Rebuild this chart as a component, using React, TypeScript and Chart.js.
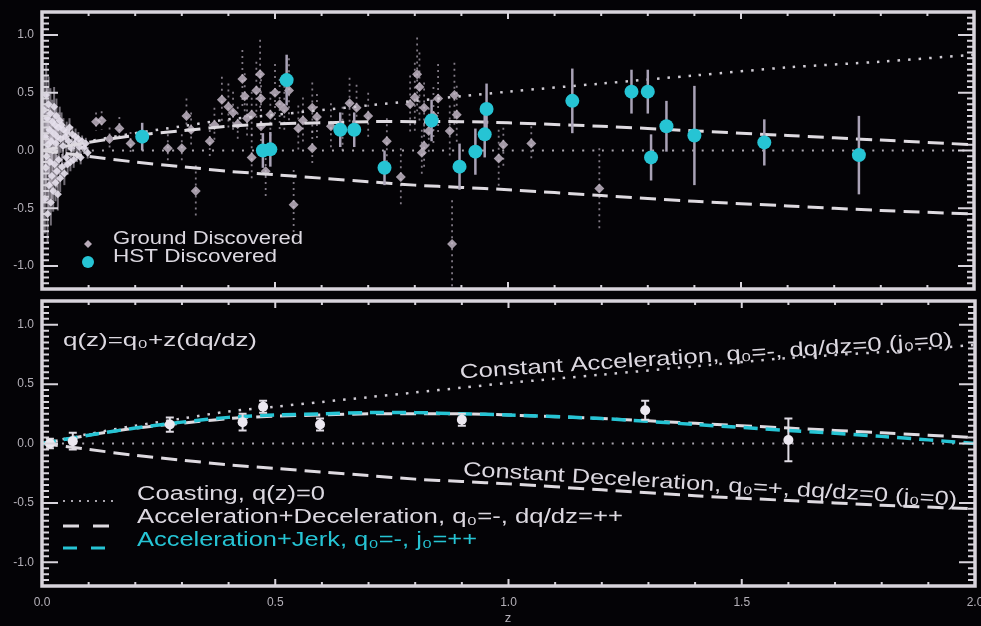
import React, { useEffect, useRef } from 'react';
import { Chart, registerables } from 'chart.js';
Chart.register(...registerables);

// ---------- axis ticks ----------
const xTicks = [0, 0.5, 1.0, 1.5, 2.0];
const xTickLabels = ['0.0', '0.5', '1.0', '1.5', '2.0'];
const yTicks = [-1.0, -0.5, 0, 0.5, 1.0];
const yTickLabels = ['-1.0', '-0.5', '0.0', '0.5', '1.0'];

// ---------- model curves (Δ(m-M) vs z) ----------
const modelZ = [0, 0.1, 0.2, 0.3, 0.4, 0.5, 0.6, 0.7, 0.8, 0.9, 1.0, 1.2, 1.4, 1.6, 1.8, 2.0];
const constAcc = [0, 0.08, 0.15, 0.21, 0.27, 0.31, 0.35, 0.39, 0.43, 0.47, 0.51, 0.58, 0.65, 0.72, 0.77, 0.83];
const coasting = [0, 0, 0, 0, 0, 0, 0, 0, 0, 0, 0, 0, 0, 0, 0, 0];
const accDec = [0, 0.07, 0.13, 0.17, 0.21, 0.23, 0.24, 0.25, 0.25, 0.25, 0.24, 0.21, 0.17, 0.13, 0.09, 0.05];
const accJerk = [0, 0.07, 0.13, 0.18, 0.22, 0.24, 0.25, 0.26, 0.26, 0.25, 0.24, 0.21, 0.16, 0.11, 0.06, 0.0];
const constDec = [0, -0.05, -0.1, -0.14, -0.18, -0.21, -0.24, -0.27, -0.3, -0.32, -0.34, -0.39, -0.44, -0.48, -0.52, -0.55];

// ---------- ground-discovered SNe, low-z ----------
const lowZ = [
  0.004, 0.006, 0.007, 0.008, 0.009, 0.010, 0.011, 0.012, 0.013, 0.014,
  0.015, 0.016, 0.017, 0.018, 0.019, 0.020, 0.021, 0.022, 0.023, 0.024,
  0.025, 0.026, 0.027, 0.028, 0.029, 0.030, 0.031, 0.032, 0.033, 0.034,
  0.035, 0.036, 0.038, 0.039, 0.040, 0.042, 0.043, 0.045, 0.046, 0.048,
  0.050, 0.052, 0.053, 0.055, 0.057, 0.059, 0.061, 0.063, 0.065, 0.068,
  0.070, 0.072, 0.075, 0.078, 0.080, 0.083, 0.086, 0.090, 0.094, 0.098,
];
const lowMu = [
  0.35, -0.42, 0.12, -0.15, 0.48, -0.05, 0.28, -0.55, 0.05, 0.40,
  -0.30, 0.18, -0.10, 0.32, -0.45, 0.08, -0.22, 0.25, 0.00, -0.35,
  0.15, 0.38, -0.12, 0.22, -0.28, 0.06, 0.30, -0.18, 0.12, -0.38,
  0.20, -0.08, 0.26, -0.24, 0.10, 0.22, -0.14, 0.04, 0.18, -0.20,
  0.12, -0.06, 0.16, -0.12, 0.08, 0.20, -0.10, 0.02, 0.14, -0.08,
  0.06, 0.12, -0.04, 0.10, 0.03, -0.06, 0.08, 0.02, 0.06, -0.02,
];
const lowErr = [
  0.30, 0.30, 0.28, 0.28, 0.28, 0.26, 0.26, 0.25, 0.25, 0.24,
  0.24, 0.22, 0.22, 0.22, 0.20, 0.20, 0.20, 0.19, 0.18, 0.18,
  0.18, 0.17, 0.16, 0.16, 0.16, 0.15, 0.15, 0.14, 0.14, 0.14,
  0.13, 0.13, 0.12, 0.12, 0.12, 0.11, 0.11, 0.10, 0.10, 0.10,
  0.10, 0.09, 0.09, 0.09, 0.08, 0.08, 0.08, 0.08, 0.07, 0.07,
  0.07, 0.07, 0.06, 0.06, 0.06, 0.06, 0.05, 0.05, 0.05, 0.05,
];

// ---------- ground-discovered SNe, high-z ----------
const groundZ = [
  0.116, 0.128, 0.145, 0.166, 0.19, 0.27, 0.30, 0.31, 0.32, 0.33,
  0.36, 0.37, 0.386, 0.40, 0.41, 0.42, 0.43, 0.435, 0.44, 0.45,
  0.45, 0.46, 0.468, 0.47, 0.47, 0.48, 0.49, 0.50, 0.51, 0.52,
  0.53, 0.54, 0.55, 0.56, 0.58, 0.58, 0.59, 0.62, 0.645, 0.66,
  0.675, 0.70, 0.74, 0.77, 0.79, 0.80, 0.805, 0.81, 0.815, 0.82,
  0.82, 0.83, 0.84, 0.85, 0.875, 0.88, 0.885, 0.89, 0.98, 0.99,
  1.05, 1.196,
];
const groundMu = [
  0.25, 0.26, 0.10, 0.19, 0.06, 0.02, 0.02, 0.30, 0.18, -0.35,
  0.08, 0.22, 0.44, 0.38, 0.33, 0.23, 0.62, 0.47, 0.28, -0.06,
  0.31, 0.52, 0.66, 0.45, 0.21, -0.18, 0.31, 0.50, 0.40, 0.36,
  0.52, -0.47, 0.19, 0.26, 0.37, 0.02, 0.29, 0.21, 0.18, 0.41,
  0.37, 0.30, 0.08, -0.23, 0.40, 0.46, 0.66, 0.55, -0.02, 0.37,
  0.04, 0.17, 0.30, 0.45, 0.17, -0.81, 0.48, 0.31, -0.07, 0.05,
  0.06, -0.33,
];
const groundErr = [
  0.08, 0.08, 0.10, 0.10, 0.10, 0.12, 0.12, 0.15, 0.15, 0.22,
  0.15, 0.15, 0.20, 0.20, 0.18, 0.15, 0.25, 0.20, 0.18, 0.20,
  0.20, 0.25, 0.30, 0.22, 0.15, 0.22, 0.20, 0.25, 0.22, 0.20,
  0.28, 0.30, 0.20, 0.20, 0.22, 0.15, 0.20, 0.20, 0.20, 0.22,
  0.20, 0.20, 0.20, 0.25, 0.25, 0.30, 0.32, 0.30, 0.20, 0.22,
  0.20, 0.20, 0.25, 0.30, 0.22, 0.38, 0.28, 0.25, 0.25, 0.20,
  0.15, 0.35,
];

// ---------- HST-discovered SNe ----------
const hstZ = [0.215, 0.474, 0.49, 0.525, 0.64, 0.67, 0.735, 0.836, 0.896, 0.93, 0.95, 0.954, 1.138, 1.265, 1.30, 1.307, 1.34, 1.40, 1.55, 1.753];
const hstMu = [0.12, 0.00, 0.01, 0.61, 0.18, 0.18, -0.15, 0.26, -0.14, -0.01, 0.14, 0.36, 0.43, 0.51, 0.51, -0.06, 0.21, 0.13, 0.07, -0.04];
const hstErr = [0.12, 0.15, 0.15, 0.22, 0.15, 0.15, 0.15, 0.18, 0.20, 0.20, 0.20, 0.22, 0.28, 0.19, 0.19, 0.20, 0.22, 0.43, 0.20, 0.34];

// ---------- binned data (lower panel) ----------
const binZ = [0.017, 0.066, 0.274, 0.43, 0.474, 0.596, 0.90, 1.293, 1.60];
const binMu = [0.0, 0.02, 0.16, 0.18, 0.31, 0.16, 0.20, 0.28, 0.03];
const binErr = [0.04, 0.07, 0.06, 0.07, 0.05, 0.05, 0.05, 0.08, 0.18];

// ---------- styling ----------
const FONT = '"Liberation Sans", Arial, Helvetica, sans-serif';
const BG = '#040306';
const FRAME = '#d8d4dc';
const TEXT = '#dcd8e0';
const TICK = '#b4b0b8';
const CYAN = '#26c4d4';
const LINE = '#dedae0';

Chart.defaults.font.family = FONT;

const toPts = (xs: number[], ys: number[]) => xs.map((x, i) => ({ x, y: ys[i] }));

const lineDs = (ys: number[], color: string, dash: number[], width: number) => ({
  data: toPts(modelZ, ys),
  showLine: true,
  borderColor: color,
  backgroundColor: color,
  borderWidth: width,
  borderDash: dash,
  pointRadius: 0,
  tension: 0.3,
  fill: false,
});

type TextSpec = { text: string; x: number; y: number; size: number; width: number; color: string; angle?: number };

function drawText(ctx: CanvasRenderingContext2D, t: TextSpec) {
  ctx.save();
  ctx.font = `${t.size}px ${FONT}`;
  const w = ctx.measureText(t.text).width;
  ctx.translate(t.x, t.y);
  if (t.angle) ctx.rotate((t.angle * Math.PI) / 180);
  ctx.scale(t.width / w, 1);
  ctx.fillStyle = t.color;
  ctx.textAlign = 'left';
  ctx.textBaseline = 'middle';
  ctx.fillText(t.text, 0, 0);
  ctx.restore();
}

const errorBarPlugin = {
  id: 'errbars',
  beforeDatasetDraw(chart: any, args: any) {
    const ds = chart.data.datasets[args.index];
    if (!ds.errors) return;
    const { ctx, chartArea: a } = chart;
    const ys = chart.scales.y;
    ctx.save();
    ctx.beginPath();
    ctx.rect(a.left, a.top, a.right - a.left, a.bottom - a.top);
    ctx.clip();
    ctx.strokeStyle = ds.errColor;
    ctx.lineWidth = ds.errWidth;
    ctx.setLineDash(ds.errDash || []);
    args.meta.data.forEach((el: any, i: number) => {
      const v = ds.data[i].y;
      const e = ds.errors[i];
      const x = el.x;
      const y1 = ys.getPixelForValue(v + e);
      const y2 = ys.getPixelForValue(v - e);
      ctx.beginPath();
      ctx.moveTo(x, y1);
      ctx.lineTo(x, y2);
      if (ds.errCap) {
        ctx.moveTo(x - ds.errCap, y1);
        ctx.lineTo(x + ds.errCap, y1);
        ctx.moveTo(x - ds.errCap, y2);
        ctx.lineTo(x + ds.errCap, y2);
      }
      ctx.stroke();
    });
    ctx.restore();
  },
};

const framePlugin = {
  id: 'frame',
  afterDraw(chart: any) {
    const { ctx, chartArea: a, scales } = chart;
    const xs = scales.x;
    const ys = scales.y;
    ctx.save();
    ctx.strokeStyle = FRAME;
    ctx.lineWidth = 2;
    for (let k = -23; k <= 23; k++) {
      const major = k % 10 === 0;
      const len = major ? 16 : 7;
      const py = ys.getPixelForValue(k * 0.05);
      ctx.beginPath();
      ctx.moveTo(a.left, py);
      ctx.lineTo(a.left + len, py);
      ctx.moveTo(a.right, py);
      ctx.lineTo(a.right - len, py);
      ctx.stroke();
    }
    for (let k = 1; k < 20; k++) {
      const major = k % 5 === 0;
      const len = major ? 7 : 4;
      const px = xs.getPixelForValue(k * 0.1);
      ctx.beginPath();
      ctx.moveTo(px, a.top);
      ctx.lineTo(px, a.top + len);
      ctx.moveTo(px, a.bottom);
      ctx.lineTo(px, a.bottom - len);
      ctx.stroke();
    }
    ctx.lineWidth = 3.5;
    ctx.strokeRect(a.left, a.top, a.right - a.left, a.bottom - a.top);
    ctx.restore();
  },
};

const yScale = () => ({
  type: 'linear',
  min: -1.2,
  max: 1.2,
  grid: { display: false, drawTicks: false },
  border: { display: false },
  ticks: {
    color: TICK,
    font: { family: FONT, size: 12 },
    padding: 8,
    callback: (v: number) => yTickLabels[yTicks.indexOf(v)],
  },
  afterBuildTicks: (s: any) => {
    s.ticks = yTicks.map((v) => ({ value: v }));
  },
  afterFit: (s: any) => {
    s.width = 42;
    s.paddingTop = 0;
    s.paddingBottom = 0;
  },
});

function topConfig(): any {
  const annot = {
    id: 'annotTop',
    afterDraw(chart: any) {
      const ctx = chart.ctx as CanvasRenderingContext2D;
      ctx.save();
      ctx.fillStyle = 'rgba(205,190,205,0.9)';
      ctx.beginPath();
      ctx.moveTo(88, 240);
      ctx.lineTo(92, 244);
      ctx.lineTo(88, 248);
      ctx.lineTo(84, 244);
      ctx.closePath();
      ctx.fill();
      ctx.fillStyle = CYAN;
      ctx.beginPath();
      ctx.arc(88, 262, 6, 0, Math.PI * 2);
      ctx.fill();
      ctx.restore();
      drawText(ctx, { text: 'Ground Discovered', x: 113, y: 239, size: 18, width: 190, color: TEXT });
      drawText(ctx, { text: 'HST Discovered', x: 113, y: 257, size: 18, width: 164, color: TEXT });
    },
  };
  return {
    type: 'scatter',
    data: {
      datasets: [
        {
          data: toPts(hstZ, hstMu),
          pointStyle: 'circle',
          pointRadius: 7,
          backgroundColor: CYAN,
          borderWidth: 0,
          errors: hstErr,
          errColor: '#a9a2b6',
          errWidth: 2.5,
        },
        lineDs(accDec, LINE, [16, 8], 3),
        lineDs(constAcc, '#d0ccd4', [2.5, 8], 2.5),
        lineDs(coasting, '#a8a4ac', [2, 8], 2),
        lineDs(constDec, LINE, [16, 8], 3),
        {
          data: toPts(groundZ, groundMu),
          pointStyle: 'rectRot',
          pointRadius: 5,
          backgroundColor: 'rgba(205,192,208,0.8)',
          borderWidth: 0,
          errors: groundErr,
          errColor: 'rgba(195,185,200,0.65)',
          errWidth: 1.8,
          errDash: [2, 4],
        },
        {
          data: toPts(lowZ, lowMu),
          pointStyle: 'rectRot',
          pointRadius: 4,
          backgroundColor: 'rgba(230,224,236,0.9)',
          borderWidth: 0,
          errors: lowErr,
          errColor: 'rgba(225,218,232,0.5)',
          errWidth: 2,
        },
      ],
    },
    options: {
      animation: false,
      responsive: false,
      maintainAspectRatio: false,
      layout: { padding: { top: 12, right: 6, bottom: 3, left: 0 } },
      plugins: { legend: { display: false }, tooltip: { enabled: false } },
      scales: {
        x: { type: 'linear', min: 0, max: 2, display: false },
        y: yScale(),
      },
    },
    plugins: [errorBarPlugin, framePlugin, annot],
  };
}

function botConfig(): any {
  const annot = {
    id: 'annotBot',
    afterDraw(chart: any) {
      const ctx = chart.ctx as CanvasRenderingContext2D;
      drawText(ctx, { text: 'q(z)=q₀+z(dq/dz)', x: 63, y: 45, size: 19, width: 194, color: TEXT });
      drawText(ctx, { text: 'Constant Acceleration, q₀=-, dq/dz=0 (j₀=0)', x: 460, y: 77, size: 20, width: 493, color: TEXT, angle: -3.8 });
      drawText(ctx, { text: 'Constant Deceleration, q₀=+, dq/dz=0 (j₀=0)', x: 463, y: 174, size: 20, width: 495, color: TEXT, angle: 3.5 });
      drawText(ctx, { text: 'Coasting, q(z)=0', x: 137, y: 198, size: 20, width: 188, color: TEXT });
      drawText(ctx, { text: 'Acceleration+Deceleration, q₀=-, dq/dz=++', x: 137, y: 221, size: 20, width: 486, color: TEXT });
      drawText(ctx, { text: 'Acceleration+Jerk, q₀=-, j₀=++', x: 137, y: 244, size: 20, width: 340, color: CYAN });
      // legend line samples
      ctx.save();
      ctx.lineWidth = 2;
      ctx.strokeStyle = '#a8a4ac';
      ctx.setLineDash([2, 6]);
      ctx.beginPath();
      ctx.moveTo(63, 205);
      ctx.lineTo(113, 205);
      ctx.stroke();
      ctx.lineWidth = 3;
      ctx.strokeStyle = LINE;
      ctx.setLineDash([16, 14]);
      ctx.beginPath();
      ctx.moveTo(63, 230);
      ctx.lineTo(113, 230);
      ctx.stroke();
      ctx.strokeStyle = CYAN;
      ctx.setLineDash([14, 14]);
      ctx.beginPath();
      ctx.moveTo(63, 252);
      ctx.lineTo(113, 252);
      ctx.stroke();
      ctx.restore();
      ctx.save();
      ctx.fillStyle = TICK;
      ctx.font = `13px ${FONT}`;
      ctx.textAlign = 'center';
      ctx.textBaseline = 'middle';
      ctx.fillText('z', 508, 322);
      ctx.restore();
    },
  };
  return {
    type: 'scatter',
    data: {
      datasets: [
        {
          data: toPts(binZ, binMu),
          pointStyle: 'circle',
          pointRadius: 5,
          backgroundColor: '#ece8f0',
          borderWidth: 0,
          errors: binErr,
          errColor: '#e0dce4',
          errWidth: 2,
          errCap: 4,
        },
        lineDs(accJerk, CYAN, [14, 8], 3.5),
        lineDs(accDec, LINE, [16, 8], 3),
        lineDs(constAcc, '#d0ccd4', [2.5, 8], 2.5),
        lineDs(coasting, '#a8a4ac', [2, 8], 2),
        lineDs(constDec, LINE, [16, 8], 3),
      ],
    },
    options: {
      animation: false,
      responsive: false,
      maintainAspectRatio: false,
      layout: { padding: { top: 2, right: 6, bottom: 0, left: 0 } },
      plugins: { legend: { display: false }, tooltip: { enabled: false } },
      scales: {
        x: {
          type: 'linear',
          min: 0,
          max: 2,
          grid: { display: false, drawTicks: false },
          border: { display: false },
          ticks: {
            color: TICK,
            font: { family: FONT, size: 12 },
            padding: 9,
            maxRotation: 0,
            callback: (v: number) => xTickLabels[xTicks.indexOf(v)],
          },
          afterBuildTicks: (s: any) => {
            s.ticks = xTicks.map((v) => ({ value: v }));
          },
          afterFit: (s: any) => {
            s.height = 40;
            s.paddingLeft = 0;
            s.paddingRight = 0;
          },
        },
        y: yScale(),
      },
    },
    plugins: [errorBarPlugin, framePlugin, annot],
  };
}

export default function App() {
  const topRef = useRef<HTMLCanvasElement>(null);
  const botRef = useRef<HTMLCanvasElement>(null);
  useEffect(() => {
    document.body.style.margin = '0';
    document.body.style.background = BG;
    const c1 = new Chart(topRef.current as HTMLCanvasElement, topConfig());
    const c2 = new Chart(botRef.current as HTMLCanvasElement, botConfig());
    return () => {
      c1.destroy();
      c2.destroy();
    };
  }, []);
  return (
    <div style={{ position: 'fixed', left: 0, top: 0, width: 981, height: 626, background: BG, overflow: 'hidden' }}>
      <canvas ref={topRef} width={981} height={296} style={{ position: 'absolute', left: 0, top: 0, width: 981, height: 296 }} />
      <canvas ref={botRef} width={981} height={330} style={{ position: 'absolute', left: 0, top: 296, width: 981, height: 330 }} />
    </div>
  );
}
